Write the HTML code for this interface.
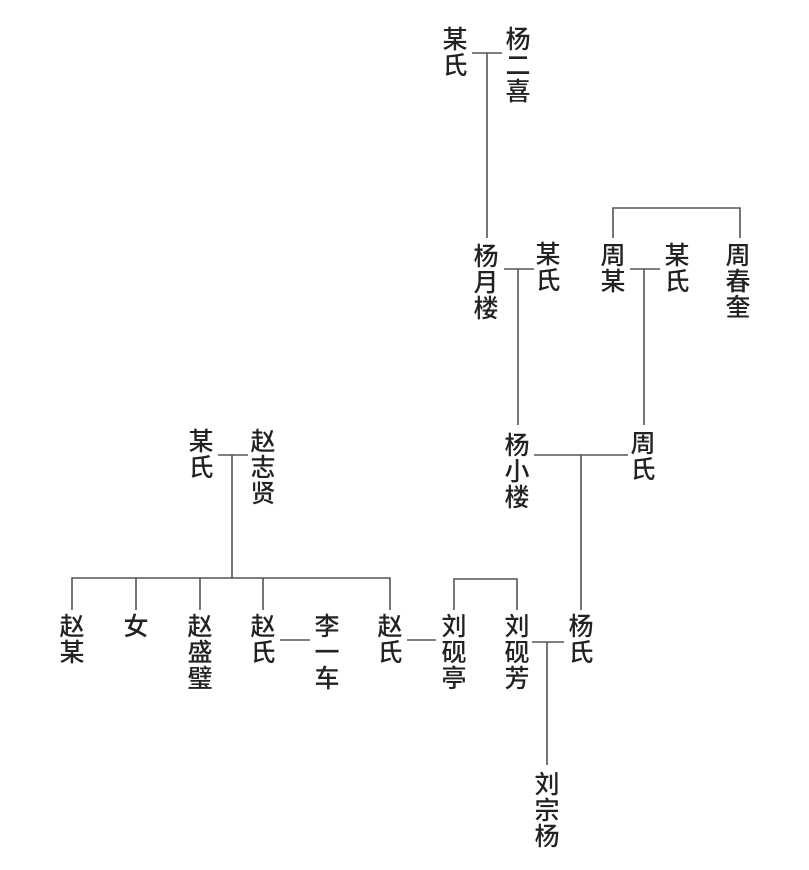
<!DOCTYPE html>
<html><head><meta charset="utf-8"><style>
html,body{margin:0;padding:0;background:#fff;}
body{width:809px;height:870px;position:relative;overflow:hidden;}
.t{position:absolute;width:30px;margin-left:-15px;text-align:center;font-family:"Liberation Sans","Noto Sans CJK SC",sans-serif;font-size:25px;font-weight:500;line-height:26px;color:#222;}
svg{position:absolute;left:0;top:0;}
</style></head><body>
<svg width="809" height="870"><g stroke="#555" stroke-width="1.6" fill="none">
<path d="M472 53H502M487 53V238"/>
<path d="M504 269H534M518 269V425"/>
<path d="M613 238V208H740V238"/>
<path d="M630 269H660M644 269V425"/>
<path d="M534 455H628M581 455V610"/>
<path d="M218 455H248M232 455V578"/>
<path d="M72 610V578H390V610M136 578V610M200 578V610M263 578V610"/>
<path d="M280 640H310"/>
<path d="M407 640H436"/>
<path d="M454 610V579H517V610"/>
<path d="M532 642H564M547 642V765"/>
</g></svg>
<div class="t" style="left:455px;top:27px">某<br>氏</div>
<div class="t" style="left:518px;top:27px">杨<br>二<br>喜</div>
<div class="t" style="left:486px;top:244px">杨<br>月<br>楼</div>
<div class="t" style="left:548px;top:242px">某<br>氏</div>
<div class="t" style="left:613px;top:243px">周<br>某</div>
<div class="t" style="left:677px;top:243px">某<br>氏</div>
<div class="t" style="left:738px;top:243px">周<br>春<br>奎</div>
<div class="t" style="left:517px;top:433px">杨<br>小<br>楼</div>
<div class="t" style="left:643px;top:431px">周<br>氏</div>
<div class="t" style="left:201px;top:429px">某<br>氏</div>
<div class="t" style="left:263px;top:429px">赵<br>志<br>贤</div>
<div class="t" style="left:72px;top:614px">赵<br>某</div>
<div class="t" style="left:136px;top:614px">女</div>
<div class="t" style="left:200px;top:614px">赵<br>盛<br>璧</div>
<div class="t" style="left:263px;top:614px">赵<br>氏</div>
<div class="t" style="left:327px;top:614px">李<br>一<br>车</div>
<div class="t" style="left:390px;top:614px">赵<br>氏</div>
<div class="t" style="left:454px;top:614px">刘<br>砚<br>亭</div>
<div class="t" style="left:517px;top:614px">刘<br>砚<br>芳</div>
<div class="t" style="left:581px;top:614px">杨<br>氏</div>
<div class="t" style="left:547px;top:772px">刘<br>宗<br>杨</div>
</body></html>
